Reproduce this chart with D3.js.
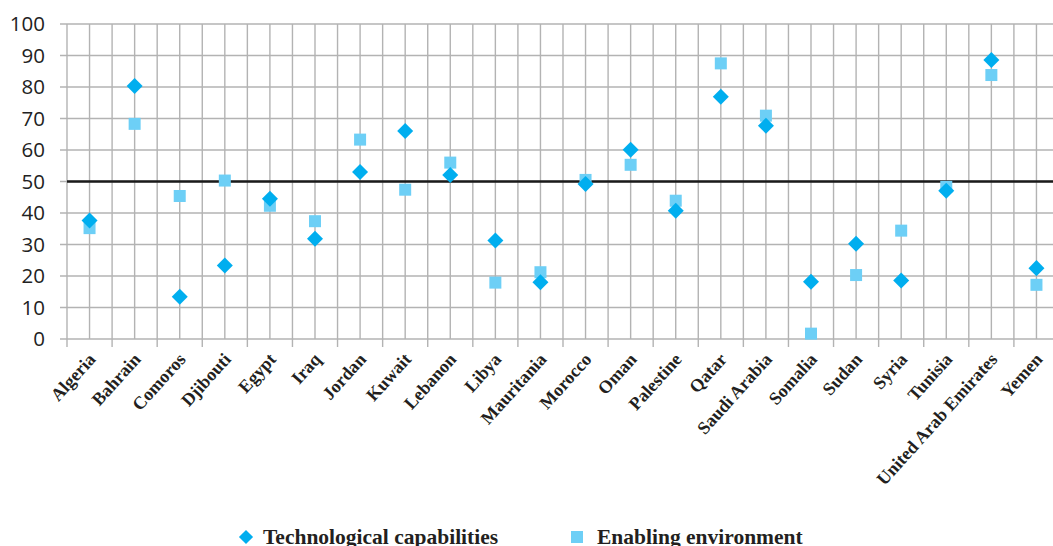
<!DOCTYPE html>
<html>
<head>
<meta charset="utf-8">
<script src="https://cdn.jsdelivr.net/npm/d3@7"></script>
<style>
  html, body { margin: 0; padding: 0; background: #fff; overflow: hidden; }
  svg { display: block; }
</style>
</head>
<body>
<svg id="chart" width="1053" height="546"></svg>
<script>
// Arab countries: technological capabilities vs. enabling environment (index, 0–100)
const countries = ["Algeria", "Bahrain", "Comoros", "Djibouti", "Egypt", "Iraq", "Jordan",
  "Kuwait", "Lebanon", "Libya", "Mauritania", "Morocco", "Oman", "Palestine", "Qatar",
  "Saudi Arabia", "Somalia", "Sudan", "Syria", "Tunisia", "United Arab Emirates", "Yemen"];

const technologicalCapabilities = [37.6, 80.3, 13.4, 23.3, 44.5, 31.8, 53.0, 66.0, 52.1, 31.3,
  18.0, 49.2, 60.1, 40.7, 76.9, 67.7, 18.2, 30.2, 18.6, 47.1, 88.6, 22.5];

const enablingEnvironment = [35.2, 68.3, 45.4, 50.3, 42.3, 37.4, 63.3, 47.4, 56.0, 17.9,
  21.2, 50.5, 55.3, 43.9, 87.5, 70.9, 1.7, 20.3, 34.4, 48.3, 83.8, 17.2];

const yTicks = [0, 10, 20, 30, 40, 50, 60, 70, 80, 90, 100];
const threshold = 50;
const seriesNames = ["Technological capabilities", "Enabling environment"];

const svg = d3.select("#chart");
const plot = { left: 67, right: 1059, top: 24, bottom: 339 };

const x = d3.scaleBand().domain(countries).range([plot.left, plot.right]);
const y = d3.scaleLinear().domain([0, 100]).range([plot.bottom, plot.top]);
const cx = d => x(d) + x.bandwidth() / 2;

const gridColor = "#b3b3b3";
const diamondColor = "#00aeef";
const squareColor = "#6dcff6";

// horizontal gridlines with left tick marks
svg.append("g")
  .selectAll("line")
  .data(yTicks)
  .join("line")
  .attr("x1", plot.left - 7).attr("x2", plot.right)
  .attr("y1", d => y(d)).attr("y2", d => y(d))
  .attr("stroke", gridColor).attr("stroke-width", 1.4);

// vertical gridlines: category boundaries (with ticks below axis) and centres
const boundaries = countries.map(c => x(c)).concat([plot.right]);
svg.append("g")
  .selectAll("line")
  .data(boundaries)
  .join("line")
  .attr("x1", d => d).attr("x2", d => d)
  .attr("y1", plot.top).attr("y2", plot.bottom + 8)
  .attr("stroke", gridColor).attr("stroke-width", 1.4);

svg.append("g")
  .selectAll("line")
  .data(countries)
  .join("line")
  .attr("x1", d => cx(d)).attr("x2", d => cx(d))
  .attr("y1", plot.top).attr("y2", plot.bottom)
  .attr("stroke", gridColor).attr("stroke-width", 1.4);

// threshold line at 50
svg.append("line")
  .attr("x1", plot.left).attr("x2", plot.right)
  .attr("y1", y(threshold)).attr("y2", y(threshold))
  .attr("stroke", "#1a1a1a").attr("stroke-width", 2.4);

// y-axis labels
svg.append("g")
  .selectAll("text")
  .data(yTicks)
  .join("text")
  .attr("x", 45)
  .attr("y", d => y(d))
  .attr("dy", "0.36em")
  .attr("text-anchor", "end")
  .attr("font-family", "'Open Sans', 'DejaVu Sans', sans-serif")
  .attr("font-size", 20.5)
  .attr("fill", "#222")
  .text(d => d);

// rotated category labels
svg.append("g")
  .selectAll("text")
  .data(countries)
  .join("text")
  .attr("transform", d => `translate(${cx(d) + 7},${plot.bottom + 21}) rotate(-48)`)
  .attr("text-anchor", "end")
  .attr("font-family", "'Liberation Serif', 'DejaVu Serif', serif")
  .attr("font-weight", "bold")
  .attr("font-size", 18)
  .attr("fill", "#231f20")
  .text(d => d);

const diamond = d3.symbol().type(d3.symbolSquare).size(128);

// enabling environment: squares
svg.append("g")
  .selectAll("rect")
  .data(countries)
  .join("rect")
  .attr("x", (d, i) => cx(d) - 6)
  .attr("y", (d, i) => y(enablingEnvironment[i]) - 6)
  .attr("width", 12).attr("height", 12)
  .attr("fill", squareColor);

// technological capabilities: diamonds
svg.append("g")
  .selectAll("path")
  .data(countries)
  .join("path")
  .attr("d", diamond)
  .attr("transform", (d, i) => `translate(${cx(d)},${y(technologicalCapabilities[i])}) rotate(45)`)
  .attr("fill", diamondColor);

// legend
const legend = svg.append("g")
  .attr("font-family", "'Liberation Serif', 'DejaVu Serif', serif")
  .attr("font-weight", "bold")
  .attr("font-size", 21.5)
  .attr("fill", "#231f20");

legend.append("path")
  .attr("d", d3.symbol().type(d3.symbolSquare).size(100))
  .attr("transform", "translate(246,537) rotate(45)")
  .attr("fill", diamondColor);
legend.append("text").attr("x", 263).attr("y", 544).text(seriesNames[0]);

legend.append("rect")
  .attr("x", 571).attr("y", 531).attr("width", 12).attr("height", 12)
  .attr("fill", squareColor);
legend.append("text").attr("x", 597).attr("y", 544).text(seriesNames[1]);
</script>
</body>
</html>
